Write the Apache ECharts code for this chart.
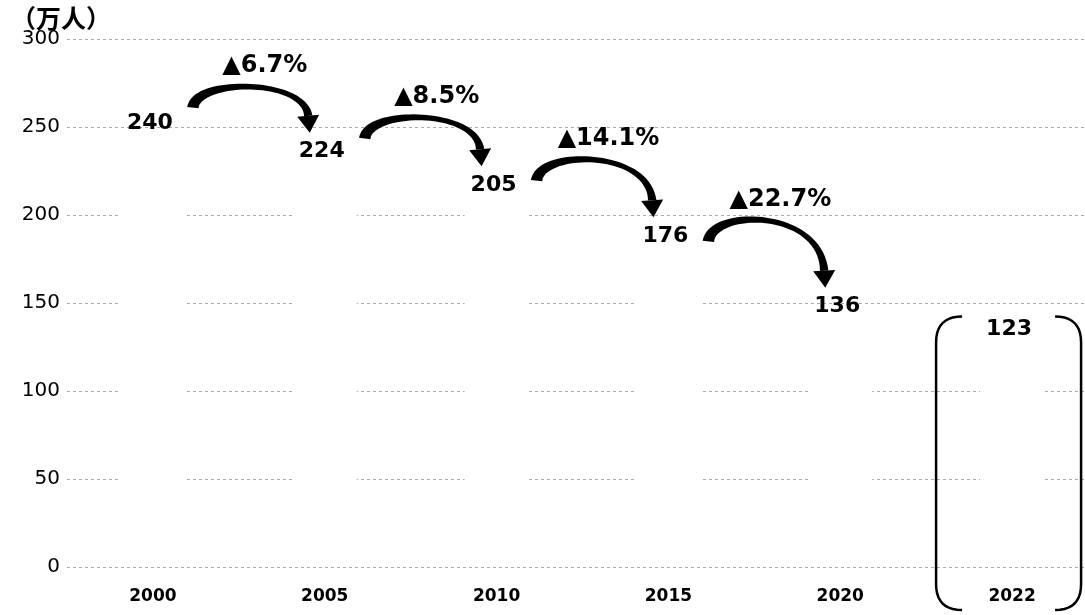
<!DOCTYPE html>
<html>
<head>
<meta charset="utf-8">
<script src="https://cdn.jsdelivr.net/npm/echarts@6/dist/echarts.min.js"></script>
<style>
  html, body { margin: 0; padding: 0; background: #fff; }
  #main { width: 1085px; height: 615px; }
</style>
</head>
<body>
<div id="main"></div>
<script>
var years = ['2000', '2005', '2010', '2015', '2020', '2022'];
var values = [240, 224, 205, 176, 136, 123];
var yTicks = [0, 50, 100, 150, 200, 250, 300];
var unitLabel = '（万人）';
// arrows go from each of these categories to the next one
var arrowFrom = [0, 1, 2, 3];
var bracketIndex = 5;

var myChart = echarts.init(document.getElementById('main'));

var option = {
  animation: false,
  title: {
    text: unitLabel,
    left: 6,
    top: 1,
    textStyle: { fontFamily: 'Noto Sans CJK SC', fontSize: 25, fontWeight: 'bold', color: '#000' }
  },
  grid: { left: 67, right: -13, top: 39, bottom: 48, outerBoundsMode: 'none' },
  xAxis: {
    type: 'category',
    data: years,
    axisLine: { show: false },
    axisTick: { show: false },
    axisLabel: { fontFamily: 'DejaVu Sans', fontSize: 17, fontWeight: 'bold', color: '#000', margin: 21 }
  },
  yAxis: {
    type: 'value',
    min: yTicks[0],
    max: yTicks[yTicks.length - 1],
    interval: yTicks[1] - yTicks[0],
    axisLine: { show: false },
    axisTick: { show: false },
    axisLabel: { fontFamily: 'DejaVu Sans', fontSize: 20, color: '#000', margin: 7 },
    splitLine: { lineStyle: { color: '#aaa', width: 1, type: [3, 3] } }
  },
  series: [
    {
      type: 'bar',
      data: values,
      barWidth: 64,
      itemStyle: { color: '#fff' },
      label: {
        show: true,
        position: 'top',
        distance: 10,
        offset: [-3, 0],
        fontFamily: 'DejaVu Sans',
        fontSize: 22,
        fontWeight: 'bold',
        color: '#000'
      }
    }
  ]
};
myChart.setOption(option);

function cubic(p0, p1, p2, p3, t) {
  var u = 1 - t;
  return [
    u * u * u * p0[0] + 3 * u * u * t * p1[0] + 3 * u * t * t * p2[0] + t * t * t * p3[0],
    u * u * u * p0[1] + 3 * u * u * t * p1[1] + 3 * u * t * t * p2[1] + t * t * t * p3[1]
  ];
}
function cubicD(p0, p1, p2, p3, t) {
  var u = 1 - t;
  return [
    3 * u * u * (p1[0] - p0[0]) + 6 * u * t * (p2[0] - p1[0]) + 3 * t * t * (p3[0] - p2[0]),
    3 * u * u * (p1[1] - p0[1]) + 6 * u * t * (p2[1] - p1[1]) + 3 * t * t * (p3[1] - p2[1])
  ];
}

// curved arrow: tapered band + triangular head
function curvedArrow(S, tip, peakY) {
  var headLen = 17, headHalf = 11;
  var E = [tip[0] - 1, tip[1] - headLen];
  var c = (peakY - 0.125 * (S[1] + E[1])) / 0.75;
  var P2 = [E[0] - 4, c];
  var dx = tip[0] - P2[0], dy = tip[1] - P2[1];
  var len = Math.sqrt(dx * dx + dy * dy);
  var dir = [dx / len, dy / len];
  E = [tip[0] - dir[0] * headLen, tip[1] - dir[1] * headLen];
  var P1 = [S[0] + 0.03 * (E[0] - S[0]), c];
  P2 = [E[0] - 4, c];
  var left = [], right = [];
  var N = 40;
  for (var k = 0; k <= N; k++) {
    var t = k / N;
    var p = cubic(S, P1, P2, E, t);
    var d = cubicD(S, P1, P2, E, t);
    var dl = Math.sqrt(d[0] * d[0] + d[1] * d[1]) || 1;
    var n = [-d[1] / dl, d[0] / dl];
    var w = 1.6 + 4.2 * Math.pow(1 - t, 2) + 2.6 * Math.pow(t, 4);
    left.push([p[0] + n[0] * w, p[1] + n[1] * w]);
    right.unshift([p[0] - n[0] * w, p[1] - n[1] * w]);
  }
  var nrm = [-dir[1], dir[0]];
  return [
    { type: 'polygon', shape: { points: left.concat(right) }, style: { fill: '#000' }, z: 10 },
    {
      type: 'polygon',
      shape: { points: [tip, [E[0] + nrm[0] * headHalf, E[1] + nrm[1] * headHalf], [E[0] - nrm[0] * headHalf, E[1] - nrm[1] * headHalf]] },
      style: { fill: '#000' },
      z: 10
    }
  ];
}

function quad(a, ctrl, b, steps) {
  var out = [];
  for (var k = 0; k <= steps; k++) {
    var t = k / steps, u = 1 - t;
    out.push([u * u * a[0] + 2 * u * t * ctrl[0] + t * t * b[0], u * u * a[1] + 2 * u * t * ctrl[1] + t * t * b[1]]);
  }
  return out;
}

var pts = values.map(function (v, i) {
  return myChart.convertToPixel({ seriesIndex: 0 }, [i, v]);
});
var graphics = [];

arrowFrom.forEach(function (i) {
  var a = pts[i], b = pts[i + 1];
  var midT = (a[1] + b[1]) / 2;
  var S = [a[0] + 40, midT - 51];
  var peakY = midT - 72;
  var tip = [b[0] - 15, b[1] - 40];
  graphics = graphics.concat(curvedArrow(S, tip, peakY));
  var pct = ((values[i] - values[i + 1]) / values[i] * 100).toFixed(1);
  graphics.push({
    type: 'text',
    z: 10,
    style: {
      text: '▲' + pct + '%',
      x: (a[0] + b[0]) / 2 + 26,
      y: peakY - 21,
      align: 'center',
      verticalAlign: 'middle',
      fontFamily: 'DejaVu Sans',
      fontSize: 24,
      fontWeight: 'bold',
      fill: '#000'
    }
  });
});

// bracket round the last year
var bp = pts[bracketIndex];
var base = myChart.convertToPixel({ seriesIndex: 0 }, [bracketIndex, 0]);
var cx = bp[0] - 3;
var bTop = bp[1] - 34, bBottom = base[1] + 43;
var lx = cx - 73, rx = cx + 72, r = 26;
var leftB = quad([lx + r, bTop], [lx, bTop], [lx, bTop + r], 10)
  .concat(quad([lx, bBottom - r], [lx, bBottom], [lx + r, bBottom], 10));
var rightB = quad([rx - r, bTop], [rx, bTop], [rx, bTop + r], 10)
  .concat(quad([rx, bBottom - r], [rx, bBottom], [rx - r, bBottom], 10));
graphics.push({ type: 'polyline', shape: { points: leftB }, style: { stroke: '#000', lineWidth: 2.5, fill: null }, z: 10 });
graphics.push({ type: 'polyline', shape: { points: rightB }, style: { stroke: '#000', lineWidth: 2.5, fill: null }, z: 10 });

myChart.setOption({ graphic: graphics });
</script>
</body>
</html>
